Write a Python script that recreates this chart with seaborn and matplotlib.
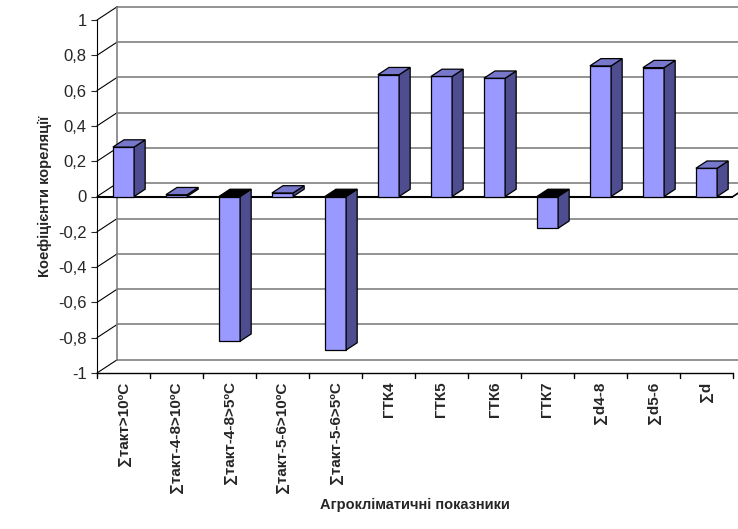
import matplotlib.pyplot as plt
import seaborn as sns
import pandas as pd
from matplotlib.patches import Polygon

labels = ['∑такт>10ºC', '∑такт-4-8>10ºC', '∑такт-4-8>5ºC', '∑такт-5-6>10ºC',
          '∑такт-5-6>5ºC', 'ГТК4', 'ГТК5', 'ГТК6', 'ГТК7', '∑d4-8', '∑d5-6', '∑d']
values = [0.28, 0.01, -0.82, 0.02, -0.87, 0.69, 0.68, 0.67, -0.18, 0.74, 0.73, 0.16]

df = pd.DataFrame({'k': labels, 'v': values})

sns.set_style('white')
plt.rcParams['font.family'] = ['Liberation Sans', 'DejaVu Sans']
fig = plt.figure(figsize=(7.38, 5.29), dpi=100)
ax = fig.add_axes([97/738, 1-373/529, 636/738, 353/529])

dx, dy = 0.38, 0.075  # depth offset in data units
front = '#9999ff'
side = '#4d4d8f'
top = '#7777cc'

# back wall and gridlines
for g in [x/10 for x in range(-10, 11, 2)]:
    ax.plot([-0.5 + dx, 11.5 + dx], [g + dy, g + dy], color='#808080', lw=1.2, clip_on=False, zorder=0)
    ax.plot([-0.5, -0.5 + dx], [g, g + dy], color='black', lw=0.8, clip_on=False, zorder=0)
ax.plot([-0.5 + dx] * 2, [-1 + dy, 1 + dy], color='#808080', lw=1.2, clip_on=False, zorder=0)
ax.plot([11.5 + dx] * 2, [-1 + dy, 1 + dy], color='#808080', lw=1.2, clip_on=False, zorder=0)
ax.plot([-0.5, 11.5], [0, 0], color='black', lw=1.5, zorder=1)
ax.plot([11.5, 11.5 + dx], [0, dy], color='black', lw=1.2, clip_on=False, zorder=1)

sns.barplot(data=df, x='k', y='v', color=front, saturation=1, width=0.4,
            edgecolor='black', linewidth=0.9, ax=ax, zorder=3)

d = dx * 0.55
h = dy * 0.55
for p in ax.patches:
    x0 = p.get_x(); w = p.get_width()
    y0 = p.get_y(); y1 = y0 + p.get_height()
    lo, hi = min(y0, y1), max(y0, y1)
    ax.add_patch(Polygon([(x0 + w, lo), (x0 + w + d, lo + h), (x0 + w + d, hi + h), (x0 + w, hi)],
                         facecolor=side, edgecolor='black', lw=0.9, zorder=3))
    ax.add_patch(Polygon([(x0, hi), (x0 + d, hi + h), (x0 + w + d, hi + h), (x0 + w, hi)],
                         facecolor=top if p.get_height() > 0 else 'black', edgecolor='black', lw=0.9, zorder=3))

ax.set_xlim(-0.5, 11.5)
ax.set_ylim(-1, 1)
ax.set_yticks([x/10 for x in range(-10, 11, 2)])
ax.set_yticklabels([('%g' % (x/10)).replace('.', ',') for x in range(-10, 11, 2)], fontsize=12)
ax.set_xticks(range(12))
ax.set_xticklabels(labels, rotation=90, fontsize=11, fontweight='bold')
ax.tick_params(axis='x', length=0, pad=6)
ax.tick_params(axis='y', length=4, left=True)
for s in ['top', 'right', 'bottom']:
    ax.spines[s].set_visible(False)
ax.spines['left'].set_color('black')
ax.plot([-0.5, 11.5], [-1, -1], color='black', lw=1, clip_on=False)
for i in range(13):
    ax.plot([i - 0.5, i - 0.5], [-1, -1.03], color='black', lw=1, clip_on=False)
ax.set_xlabel('Агрокліматичні показники', fontsize=10.5, fontweight='bold')
ax.set_ylabel('Коефіцієнти кореляції', fontsize=10.5, fontweight='bold')
fig.savefig('out.png', dpi=100)
